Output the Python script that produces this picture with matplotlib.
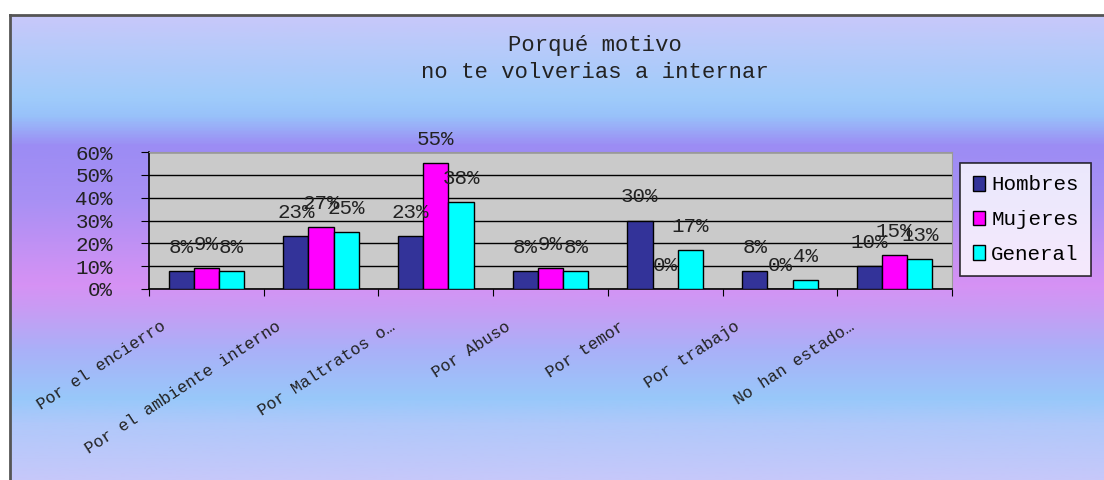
import numpy as np
import matplotlib.pyplot as plt
from matplotlib.colors import LinearSegmentedColormap
from matplotlib.patches import Patch
import matplotlib.ticker as mtick

# data
categorias = ['Por el encierro', 'Por el ambiente interno', 'Por Maltratos o…',
              'Por Abuso', 'Por temor', 'Por trabajo', 'No han estado…']
hombres = [8, 23, 23, 8, 30, 8, 10]
mujeres = [9, 27, 55, 9, 0, 0, 15]
general = [8, 25, 38, 8, 17, 4, 13]
series_names = ['Hombres', 'Mujeres', 'General']
colores = ['#333399', '#ff00ff', '#00ffff']

W, H = 1104, 480
plt.rcParams['font.family'] = ['Liberation Mono', 'DejaVu Sans']
fig = plt.figure(figsize=(W / 100, H / 100), dpi=100)
fig.patch.set_facecolor('white')

# gradient background of the chart frame
bg = fig.add_axes([10 / W, 0, 1 - 10 / W, 1 - 15 / H], zorder=-10)
stops = [(15, '#c8c8fa'), (45, '#b8cafa'), (95, '#a0ccfa'), (115, '#98c2fa'),
         (145, '#9c8cf4'), (200, '#a890f4'), (285, '#d692f4'), (310, '#c89cf4'),
         (350, '#aab0f8'), (400, '#98c8fa'), (425, '#b0c8fa'), (480, '#c6c8fa')]
pos = [(y - 15) / (480 - 15) for y, c in stops]
cmap = LinearSegmentedColormap.from_list('bg', list(zip(pos, [c for y, c in stops])))
grad = np.linspace(0, 1, 400).reshape(-1, 1)
bg.imshow(grad, aspect='auto', cmap=cmap, extent=[0, 1, 0, 1], origin='upper')
bg.set_xlim(0, 1)
bg.set_ylim(0, 1)
bg.set_xticks([])
bg.set_yticks([])
for s in ['right', 'bottom']:
    bg.spines[s].set_visible(False)
for s in ['left', 'top']:
    bg.spines[s].set_color('#555555')
    bg.spines[s].set_linewidth(2)

# title
fig.text(595 / W, 1 - 45 / H, 'Porqué motivo', ha='center', va='center', fontsize=16, color='#222222')
fig.text(595 / W, 1 - 72 / H, 'no te volverias a internar', ha='center', va='center', fontsize=16, color='#222222')

# plot area
ax = fig.add_axes([149 / W, 1 - 289 / H, 803 / W, 137 / H])
ax.set_facecolor('#cacaca')
x = np.arange(len(categorias))
w = 0.22
for i, (vals, name, col) in enumerate(zip([hombres, mujeres, general], series_names, colores)):
    xs = x + (i - 1) * w
    ax.bar(xs, vals, w, color=col, edgecolor='black', linewidth=1, zorder=3)
    for xi, v in zip(xs, vals):
        ax.annotate(f'{v}%', (xi, v), xytext=(0, 17), textcoords='offset points',
                    ha='center', va='center', fontsize=15, zorder=5, clip_on=False,
                    color='#222222')

ax.set_xlim(-0.5, len(categorias) - 0.5)
ax.set_ylim(0, 60)
ax.set_yticks(range(0, 61, 10))
ax.yaxis.set_major_formatter(mtick.FuncFormatter(lambda v, p: f'{int(v)}%'))
ax.grid(axis='y', color='black', linewidth=1, zorder=1)
ax.set_axisbelow(True)
ax.tick_params(axis='y', labelsize=15, length=6, pad=20, labelcolor='#222222')
ax.set_xticks(np.arange(-0.5, len(categorias)))
ax.set_xticklabels([])
ax.tick_params(axis='x', length=5, direction='out')
for xi, lab in zip(x, categorias):
    ax.text(xi - 0.33, -13, lab, rotation=33, ha='right', va='top',
            fontsize=12, clip_on=False, color='#222222')
ax.spines['top'].set_color('#999999')
ax.spines['right'].set_color('#999999')
ax.spines['left'].set_linewidth(1.2)
ax.spines['bottom'].set_linewidth(1.2)

# legend
handles = [Patch(facecolor=c, edgecolor='black', label=n) for c, n in zip(colores, series_names)]
leg = fig.legend(handles=handles, loc='upper left', bbox_to_anchor=(960 / W, 1 - 163 / H),
                 fontsize=15, frameon=True, fancybox=False, edgecolor='black',
                 handlelength=0.6, handleheight=0.7, handletextpad=0.3,
                 labelspacing=0.75, borderpad=0.6, borderaxespad=0)
leg.get_frame().set_linewidth(1.2)

fig.savefig('out.png', dpi=100, facecolor='white')
